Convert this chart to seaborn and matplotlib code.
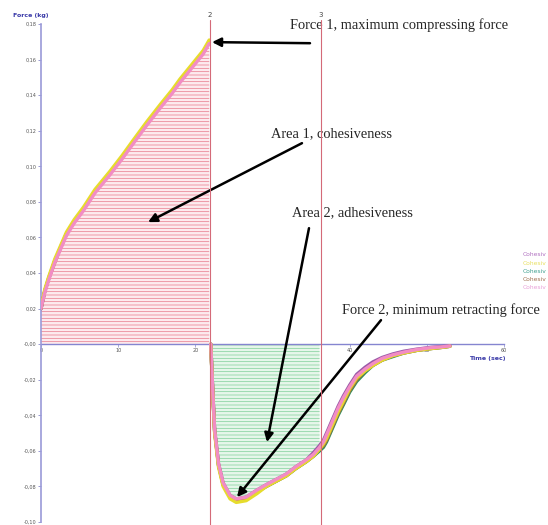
import numpy as np
import pandas as pd
import matplotlib
matplotlib.use("Agg")
import matplotlib.pyplot as plt
import matplotlib.transforms as mtransforms
import seaborn as sns

# Tiempos de lectura (s) y fuerza (kg) de las cinco repeticiones
time_s = [0.0, 0.5, 1.0, 1.8, 2.5, 3.3, 4.3, 5.5, 7.0, 8.9, 10.5, 12.0, 13.7, 15.5, 17.0,
          18.0, 19.5, 21.0, 21.8, 22.0, 22.3, 22.5, 23.0, 23.6, 24.5, 25.3, 26.6, 28.0,
          29.2, 30.5, 31.8, 33.0, 34.4, 35.3, 36.1, 36.6, 37.0, 37.5, 37.9, 38.5, 39.2,
          40.0, 40.9, 42.0, 43.0, 44.2, 45.6, 47.0, 48.7, 50.5, 52.0, 53.0]

purple_force = [0.020, 0.030, 0.037, 0.047, 0.054, 0.062, 0.069, 0.076, 0.086, 0.096, 0.105,
                0.114, 0.124, 0.134, 0.142, 0.148, 0.156, 0.164, 0.170, 0.000, -0.030, -0.048,
                -0.067, -0.078, -0.085, -0.087, -0.086, -0.082, -0.079, -0.076, -0.073, -0.069,
                -0.065, -0.061, -0.057, -0.054, -0.050, -0.045, -0.041, -0.035, -0.029, -0.023,
                -0.017, -0.013, -0.010, -0.0075, -0.0055, -0.004, -0.0028, -0.0018, -0.0013, -0.0009]
yellow_force = [0.021, 0.031, 0.038, 0.048, 0.055, 0.063, 0.070, 0.077, 0.087, 0.097, 0.106,
                0.115, 0.125, 0.135, 0.143, 0.149, 0.157, 0.165, 0.171, 0.000, -0.032, -0.050,
                -0.069, -0.080, -0.087, -0.089, -0.088, -0.084, -0.080, -0.077, -0.074, -0.070,
                -0.066, -0.063, -0.059, -0.056, -0.053, -0.048, -0.044, -0.038, -0.032, -0.025,
                -0.019, -0.015, -0.012, -0.009, -0.0065, -0.005, -0.0035, -0.0025, -0.0018, -0.0012]
green_force = [0.020, 0.030, 0.037, 0.047, 0.054, 0.062, 0.069, 0.076, 0.086, 0.096, 0.105,
               0.114, 0.124, 0.134, 0.142, 0.148, 0.156, 0.164, 0.170, 0.000, -0.031, -0.049,
               -0.068, -0.079, -0.086, -0.088, -0.087, -0.083, -0.080, -0.077, -0.074, -0.070,
               -0.066, -0.063, -0.060, -0.058, -0.055, -0.050, -0.046, -0.040, -0.034, -0.027,
               -0.021, -0.016, -0.012, -0.009, -0.007, -0.005, -0.0035, -0.0025, -0.0018, -0.0012]
brown_force = [0.020, 0.030, 0.037, 0.046, 0.054, 0.062, 0.069, 0.076, 0.086, 0.096, 0.105,
               0.114, 0.124, 0.134, 0.142, 0.148, 0.156, 0.164, 0.170, 0.000, -0.031, -0.049,
               -0.068, -0.079, -0.086, -0.088, -0.087, -0.083, -0.080, -0.077, -0.074, -0.070,
               -0.066, -0.063, -0.059, -0.057, -0.054, -0.049, -0.045, -0.039, -0.033, -0.026,
               -0.020, -0.015, -0.012, -0.009, -0.0065, -0.005, -0.0035, -0.0025, -0.0018, -0.0012]
pink_force = [0.020, 0.029, 0.036, 0.046, 0.053, 0.061, 0.068, 0.075, 0.085, 0.095, 0.104,
              0.113, 0.123, 0.133, 0.141, 0.147, 0.155, 0.163, 0.169, 0.000, -0.030, -0.048,
              -0.067, -0.078, -0.085, -0.087, -0.086, -0.082, -0.079, -0.076, -0.073, -0.069,
              -0.065, -0.062, -0.058, -0.055, -0.051, -0.046, -0.042, -0.036, -0.030, -0.024,
              -0.018, -0.014, -0.011, -0.008, -0.006, -0.0045, -0.003, -0.002, -0.0015, -0.001]

sample_names = ["Cohesiv", "Cohesiv ", "Cohesiv  ", "Cohesiv   ", "Cohesiv    "]
sample_colors = ["#9a5aa8", "#e6dc2c", "#2f8f5a", "#b0773c", "#f28cc4"]
legend_colors = ["#b070c0", "#e8e060", "#40a090", "#a07050", "#e8a0d8"]

# marcadores de fase (s)
marker_2 = 21.9
marker_3 = 36.3

y_ticks = [-0.10, -0.08, -0.06, -0.04, -0.02, 0.00, 0.02, 0.04, 0.06, 0.08, 0.10, 0.12, 0.14, 0.16, 0.18]
y_tick_labels = ["-0,10", "-0,08", "-0,06", "-0,04", "-0,02", "-0,00", "0,02", "0,04", "0,06",
                 "0,08", "0,10", "0,12", "0,14", "0,16", "0,18"]
x_ticks = [0, 10, 20, 30, 40, 50, 60]


def build_frame():
    """Arma el DataFrame largo con todas las repeticiones, separando compresion y retraccion."""
    series = [purple_force, yellow_force, green_force, brown_force, pink_force]
    parts = []
    for name, force in zip(sample_names, series):
        part = pd.DataFrame({"time": time_s, "force": force, "sample": name})
        part["phase"] = np.where(part["time"] < marker_2, "compress", "retract")
        parts.append(part)
    return pd.concat(parts, ignore_index=True)


sns.set_style("white")
plt.rcParams["hatch.linewidth"] = 0.5

df = build_frame()
t = np.array(time_s)
ref = np.array(pink_force)

fig = plt.figure(figsize=(5.48, 5.25), dpi=100)
ax = fig.add_axes([0.0748, 0.0057, 0.8449, 0.9486])

# Area 1 (cohesividad) y Area 2 (adhesividad)
m1 = t < marker_2
ax.fill_between(t[m1], 0, ref[m1], facecolor="#fdeaee", edgecolor="#e8798b",
                hatch="-----", linewidth=0, zorder=1)
m2 = (t > marker_2) & (t < marker_3)
ax.fill_between(t[m2], 0, ref[m2], facecolor="#e6f6ea", edgecolor="#7fcf98",
                hatch="-----", linewidth=0, zorder=1)

hue_order = [sample_names[0], sample_names[2], sample_names[3], sample_names[1], sample_names[4]]
palette = dict(zip(sample_names, sample_colors))
sns.lineplot(data=df, x="time", y="force", hue="sample", hue_order=hue_order, palette=palette,
             units="phase", estimator=None, sort=False, legend=False, lw=2.4, ax=ax, zorder=3)

ax.set_xlim(0, 60)
ax.set_ylim(-0.10, 0.18)

# lineas verticales de los marcadores
trans = mtransforms.blended_transform_factory(ax.transData, ax.transAxes)
for xm, lab in [(marker_2, "2"), (marker_3, "3")]:
    ax.axvline(xm, ymin=-0.01, ymax=1.008, color="#d46a78", lw=0.8, clip_on=False, zorder=4)
    ax.text(xm, 1.018, lab, transform=trans, ha="center", va="center", fontsize=5, color="#444444")

for side in ["top", "right"]:
    ax.spines[side].set_visible(False)
ax.spines["left"].set_color("#9a9ad8")
ax.spines["left"].set_linewidth(1.2)
ax.spines["bottom"].set_position(("data", 0))
ax.spines["bottom"].set_color("#8585d0")
ax.spines["bottom"].set_linewidth(1.0)
ax.spines["bottom"].set_zorder(2)

ax.set_yticks(y_ticks)
ax.set_yticklabels(y_tick_labels)
ax.set_xticks(x_ticks)
ax.set_xticklabels([str(v) for v in x_ticks])
ax.tick_params(axis="y", length=2.5, width=0.6, color="#8888cc", labelsize=3.5,
               labelcolor="#555555", pad=1, left=True)
ax.tick_params(axis="x", length=2, width=0.5, color="#8888cc", labelsize=3.5,
               labelcolor="#555555", pad=1, bottom=True)
ax.set_xlabel("")
ax.set_ylabel("")

fig.text(31 / 548, 1 - 16 / 525, "Force (kg)", ha="center", va="center",
         fontsize=4.5, fontweight="bold", color="#3a3aa8")
ax.text(57.8, -0.0079, "Time (sec)", ha="center", va="center",
        fontsize=4.5, fontweight="bold", color="#3a3aa8")

# leyenda de las repeticiones (texto coloreado)
for i, (name, col) in enumerate(zip(sample_names, legend_colors)):
    fig.text(523 / 548, 1 - (255 + 8.2 * i) / 525, name.strip(), ha="left", va="center",
             fontsize=4.3, color=col)

# anotaciones
serif = "Liberation Serif"
fs = 10.4
arrow = dict(arrowstyle="-|>", color="black", lw=1.8, mutation_scale=13, shrinkA=0, shrinkB=0)
ax.text(32.3, 0.1794, "Force 1, maximum compressing force", fontsize=fs, family=serif,
        ha="left", va="center")
ax.annotate("", xy=(22.16, 0.1698), xytext=(34.86, 0.1692), arrowprops=arrow)

ax.text(29.8, 0.1186, "Area 1, cohesiveness", fontsize=fs, family=serif, ha="left", va="center")
ax.annotate("", xy=(13.87, 0.0686), xytext=(33.82, 0.1130), arrowprops=arrow)

ax.text(32.5, 0.0737, "Area 2, adhesiveness", fontsize=fs, family=serif, ha="left", va="center")
ax.annotate("", xy=(29.29, -0.0551), xytext=(34.73, 0.0652), arrowprops=arrow)

ax.text(39.0, 0.0191, "Force 2, minimum retracting force", fontsize=fs, family=serif,
        ha="left", va="center")
ax.annotate("", xy=(25.4, -0.0860), xytext=(44.06, 0.0135), arrowprops=arrow)

fig.savefig("out.png", dpi=100)
